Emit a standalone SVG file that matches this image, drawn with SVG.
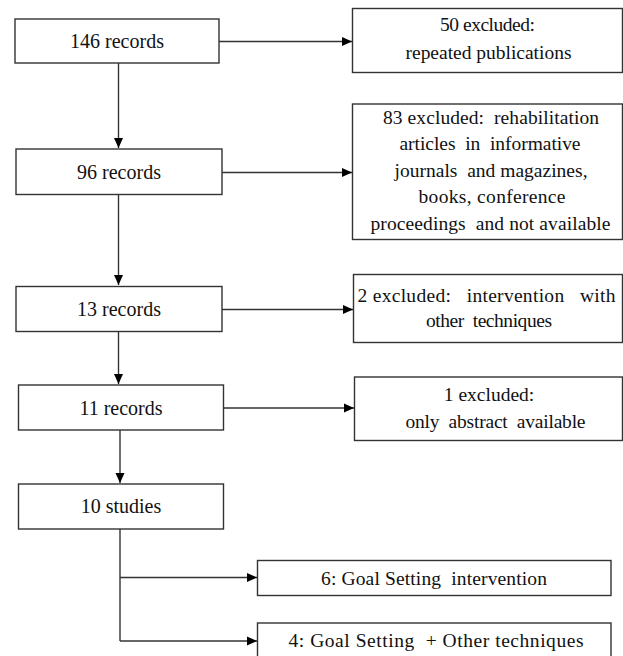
<svg xmlns="http://www.w3.org/2000/svg" width="623" height="656" viewBox="0 0 623 656">
<defs>
<marker id="ah" viewBox="0 0 10 10" refX="10" refY="5" markerWidth="10" markerHeight="10" markerUnits="userSpaceOnUse" orient="auto">
<path d="M0,0.5 L10,5 L0,9.5 z" fill="#000"/>
</marker>
<style>
.box{fill:#fff;stroke:#333;stroke-width:1.4}
.ln{fill:none;stroke:#333;stroke-width:1.4}
.arr{fill:none;stroke:#333;stroke-width:1.4;marker-end:url(#ah)}
.tl{font-family:"Liberation Serif","Times New Roman",serif;font-size:20px;fill:#111;text-anchor:middle}
.tr{font-family:"Liberation Serif","Times New Roman",serif;font-size:19.5px;fill:#111;text-anchor:middle;white-space:pre}
</style>
</defs>
<rect width="623" height="656" fill="#fff"/>
<g id="connectors">
<path class="arr" d="M118.5,63 V148"/>
<path class="arr" d="M118.5,195 V285"/>
<path class="arr" d="M118.5,332 V384"/>
<path class="arr" d="M120,430 V483"/>
<path class="ln" d="M120,529 V641"/>
<path class="arr" d="M219,41.5 H352"/>
<path class="arr" d="M222,172.5 H352"/>
<path class="arr" d="M222,309.5 H353"/>
<path class="arr" d="M224,408 H354"/>
<path class="arr" d="M120,577.5 H257"/>
<path class="arr" d="M120,641 H257"/>
</g>
<g id="n146">
<rect class="box" x="15" y="19" width="204" height="44"/>
<text class="tl" x="117" y="48">146 records</text>
</g>
<g id="n96">
<rect class="box" x="16" y="149" width="206" height="45.5"/>
<text class="tl" x="119" y="178.5">96 records</text>
</g>
<g id="n13">
<rect class="box" x="16" y="286.5" width="206" height="45"/>
<text class="tl" x="119" y="316">13 records</text>
</g>
<g id="n11">
<rect class="box" x="18.5" y="385" width="205" height="45"/>
<text class="tl" x="121" y="414.5">11 records</text>
</g>
<g id="n10">
<rect class="box" x="18.5" y="484" width="205" height="45"/>
<text class="tl" x="121" y="513">10 studies</text>
</g>
<g id="x50">
<rect class="box" x="352.5" y="8.5" width="270" height="64"/>
<text class="tr" x="487.5" y="31" textLength="95">50 excluded:</text>
<text class="tr" x="488.5" y="59" textLength="166">repeated publications</text>
</g>
<g id="x83" xml:space="preserve">
<rect class="box" x="352.5" y="104" width="270" height="135.5"/>
<text class="tr" x="491" y="123.5" textLength="216">83 excluded:  rehabilitation</text>
<text class="tr" x="490" y="150" textLength="181">articles  in  informative</text>
<text class="tr" x="491" y="176.5" textLength="193">journals  and magazines,</text>
<text class="tr" x="492" y="203" textLength="147">books, conference</text>
<text class="tr" x="490.5" y="229.5" textLength="240">proceedings  and not available</text>
</g>
<g id="x2" xml:space="preserve">
<rect class="box" x="353.5" y="274.5" width="269" height="68"/>
<text class="tr" x="486.5" y="302" textLength="258">2 excluded:   intervention   with</text>
<text class="tr" x="489" y="326.5" textLength="126">other  techniques</text>
</g>
<g id="x1" xml:space="preserve">
<rect class="box" x="354.5" y="377" width="268" height="63.5"/>
<text class="tr" x="489" y="400.5">1 excluded:</text>
<text class="tr" x="495.5" y="428" textLength="180">only  abstract  available</text>
</g>
<g id="g6" xml:space="preserve">
<rect class="box" x="257.5" y="560.5" width="353.5" height="35"/>
<text class="tr" x="434" y="584.5" textLength="226">6: Goal Setting  intervention</text>
</g>
<g id="g4" xml:space="preserve">
<rect class="box" x="257.5" y="623" width="353.5" height="60"/>
<text class="tr" x="436" y="647" textLength="295">4: Goal Setting  + Other techniques</text>
</g>
</svg>
